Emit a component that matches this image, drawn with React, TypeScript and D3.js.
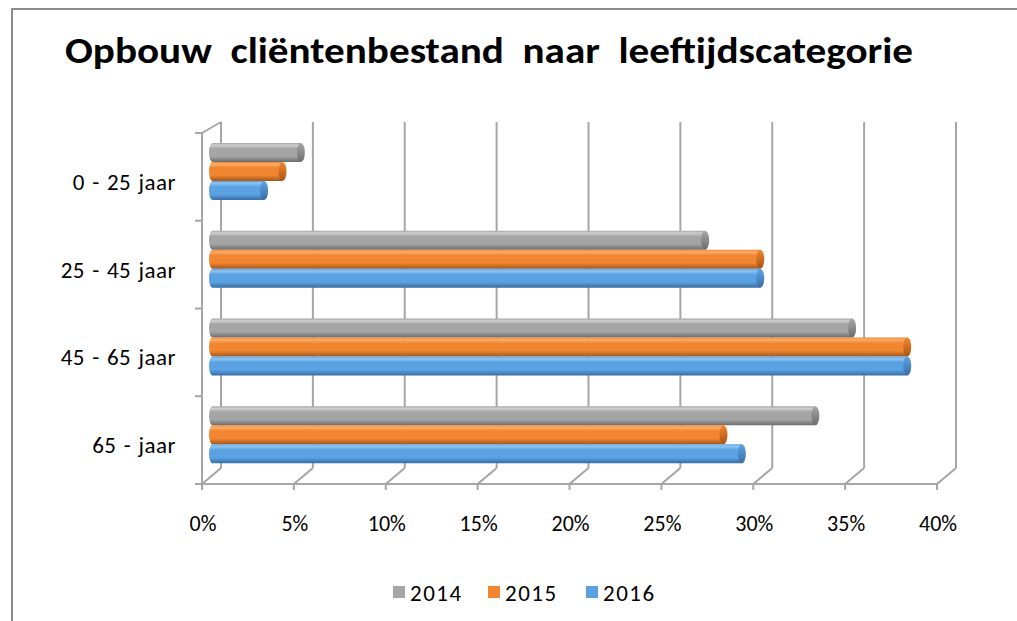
import React from "react";
import * as d3 from "d3";

const categories = ["0 - 25 jaar", "25 - 45 jaar", "45 - 65 jaar", "65 - jaar"];
const seriesNames = ["2014", "2015", "2016"];
const values2014 = [5, 27, 35, 33];
const values2015 = [4, 30, 38, 28];
const values2016 = [3, 30, 38, 29];
const tickValues = [0, 5, 10, 15, 20, 25, 30, 35, 40];
const titleText = "Opbouw  cliëntenbestand  naar  leeftijdscategorie";

const seriesValues = [values2014, values2015, values2016];
const palette = [
  { light: "#cfcfcf", main: "#a5a5a5", dark: "#6c6c6c", cap: "#8a8a8a" },
  { light: "#f9ae70", main: "#f2852f", dark: "#a3561b", cap: "#d06d22" },
  { light: "#8ec4f1", main: "#5ba2e3", dark: "#386ea4", cap: "#4b89c6" },
];

const FONT = "Carlito, Calibri, Lato, sans-serif";

export default function App() {
  const W = 1017;
  const H = 621;
  const x0 = 202;
  const xEnd = 937;
  const yTop = 133;
  const yBottom = 484;
  const depthX = 19;
  const depthY = -16;

  const x = d3.scaleLinear().domain([0, 40]).range([x0, xEnd]);
  const y = d3.scaleBand<string>().domain(categories).range([yTop, yBottom]);
  const inner = d3.scaleBand<string>().domain(seriesNames).range([10, 67]);
  const barStart = 209;
  const barLen = (v: number) => x(v) - x(0);

  const grid = "#a6a6a6";

  return (
    <div style={{ margin: 0 }}>
      <svg width={W} height={H} style={{ display: "block", position: "absolute", left: 0, top: 0 }}>
        <defs>
          {palette.map((p, i) => (
            <linearGradient key={i} id={`g${i}`} x1="0" y1="0" x2="0" y2="1">
              <stop offset="0" stopColor={p.main} />
              <stop offset="0.12" stopColor={p.light} />
              <stop offset="0.3" stopColor={p.main} />
              <stop offset="0.7" stopColor={p.main} />
              <stop offset="1" stopColor={p.dark} />
            </linearGradient>
          ))}
          {palette.map((p, i) => (
            <linearGradient key={`c${i}`} id={`c${i}`} x1="0" y1="0" x2="0" y2="1">
              <stop offset="0" stopColor={p.main} />
              <stop offset="0.5" stopColor={p.cap} />
              <stop offset="1" stopColor={p.dark} />
            </linearGradient>
          ))}
        </defs>
        <rect x={0} y={0} width={W} height={H} fill="#ffffff" />
        <rect x={12} y={9} width={W + 20} height={H + 20} fill="none" stroke="#8c8c8c" strokeWidth={2} />

        <text
          x={65}
          y={63}
          fontFamily={FONT}
          fontWeight="bold"
          fontSize={37}
          textLength={848}
          lengthAdjust="spacingAndGlyphs"
          fill="#000"
          style={{ whiteSpace: "pre" }}
        >
          {titleText}
        </text>

        {/* back wall gridlines with floor diagonals */}
        {tickValues.map((t) => (
          <g key={t} stroke={grid} strokeWidth={2} fill="none">
            <line x1={x(t) + depthX} y1={yTop - 11} x2={x(t) + depthX} y2={yBottom + depthY} />
            <line x1={x(t) + depthX} y1={yBottom + depthY} x2={x(t)} y2={yBottom} />
            <line x1={x(t)} y1={yBottom} x2={x(t)} y2={yBottom + 6} />
          </g>
        ))}
        {/* front floor axis */}
        <line x1={x0} y1={yBottom} x2={xEnd} y2={yBottom} stroke={grid} strokeWidth={2} />
        {/* left axis */}
        <line x1={x0} y1={yTop} x2={x0} y2={yBottom} stroke={grid} strokeWidth={2} />
        <line x1={x0} y1={yTop} x2={x0 + depthX} y2={yTop - 11} stroke={grid} strokeWidth={2} />
        {[...categories.map((c) => y(c) as number), yBottom].map((v, i) => (
          <line key={i} x1={x0 - 7} y1={v} x2={x0} y2={v} stroke={grid} strokeWidth={2} />
        ))}

        {/* bars */}
        {categories.map((c, ci) =>
          seriesNames.map((s, si) => {
            const v = seriesValues[si][ci];
            const top = (y(c) as number) + (inner(s) as number);
            const h = inner.bandwidth();
            const len = barLen(v);
            const rx = 3.5;
            const xe = barStart + len;
            const d = `M${barStart + rx},${top} L${xe},${top} L${xe},${top + h} L${barStart + rx},${top + h} A${rx},${h / 2} 0 0 1 ${barStart + rx},${top} Z`;
            return (
              <g key={`${c}-${s}`}>
                <path d={d} fill={`url(#g${si})`} />
                <ellipse cx={xe} cy={top + h / 2} rx={4} ry={h / 2} fill={`url(#c${si})`} />
              </g>
            );
          })
        )}

        {/* category labels */}
        {categories.map((c) => (
          <text
            key={c}
            x={176}
            y={(y(c) as number) + y.bandwidth() / 2 + 13}
            textAnchor="end"
            fontFamily={FONT}
            fontSize={23}
            letterSpacing={0.5}
            wordSpacing={1.5}
            fill="#000"
            style={{ whiteSpace: "pre" }}
          >
            {c}
          </text>
        ))}

        {/* x tick labels */}
        {tickValues.map((t) => (
          <text key={t} x={x(t) + 1} y={531} textAnchor="middle" fontFamily={FONT} fontSize={22} fill="#000">
            {`${t}%`}
          </text>
        ))}

        {/* legend */}
        {seriesNames.map((s, i) => {
          const lx = [393, 488, 586][i];
          return (
            <g key={s}>
              <rect x={lx} y={586} width={12} height={12} fill={palette[i].main} />
              <text x={lx + 17} y={601} fontFamily={FONT} fontSize={23} letterSpacing={1.5} fill="#000">
                {s}
              </text>
            </g>
          );
        })}
      </svg>
    </div>
  );
}
